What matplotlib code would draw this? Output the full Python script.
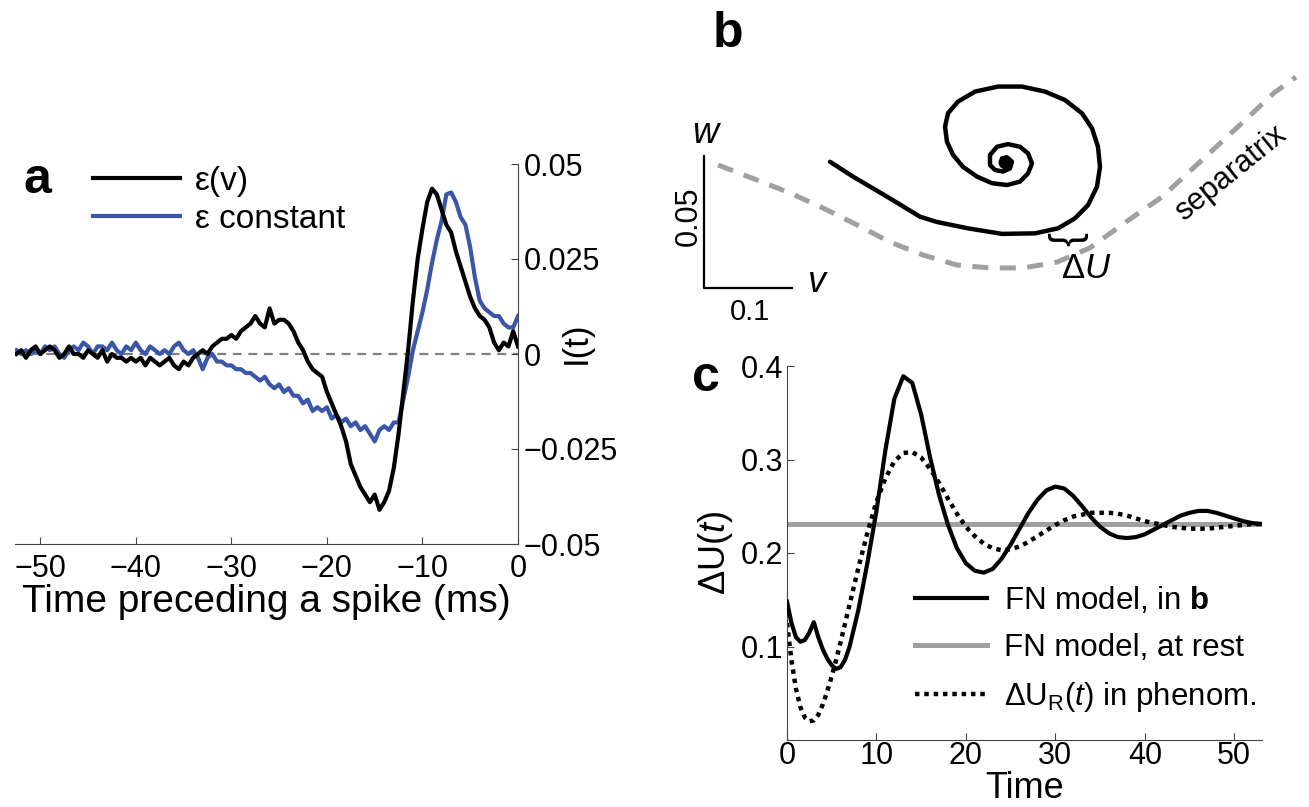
import matplotlib
matplotlib.use("Agg")
import matplotlib.pyplot as plt
import numpy as np

plt.rcParams['font.family'] = ['Liberation Sans', 'DejaVu Sans']
plt.rcParams['mathtext.fontset'] = 'custom'
plt.rcParams['mathtext.rm'] = 'Liberation Sans'
plt.rcParams['mathtext.it'] = 'Liberation Sans:italic'
plt.rcParams['mathtext.bf'] = 'Liberation Sans:bold'

# ---- panel a: spike-triggered average, 0.5 ms sampling ----
a_time = np.arange(-52.5, 0.01, 0.5)
a_eps_v = [
    0.000, 0.001, -0.001, 0.001, 0.002, 0.000, 0.001, 0.002, 0.001, -0.001,
    0.000, 0.002, 0.000, 0.000, -0.001, 0.001, 0.000, -0.001, 0.001, -0.002,
    0.000, -0.001, -0.001, -0.002, -0.001, -0.002, -0.001, -0.003, -0.001, -0.002,
    -0.003, -0.002, -0.001, -0.003, -0.004, -0.002, -0.003, -0.001, 0.000, 0.001,
    0.000, 0.002, 0.003, 0.004, 0.004, 0.005, 0.004, 0.006, 0.007, 0.008,
    0.010, 0.008, 0.007, 0.012, 0.008, 0.009, 0.009, 0.008, 0.006, 0.003,
    0.001, -0.002, -0.004, -0.005, -0.006, -0.010, -0.013, -0.016, -0.019, -0.023,
    -0.029, -0.032, -0.035, -0.037, -0.039, -0.037, -0.041, -0.039, -0.036, -0.030,
    -0.021, -0.010, 0.001, 0.014, 0.025, 0.033, 0.040, 0.0435, 0.042, 0.038,
    0.034, 0.032, 0.027, 0.023, 0.019, 0.015, 0.012, 0.010, 0.009, 0.007,
    0.003, 0.001, 0.003, 0.002, 0.006, 0.002,
]
a_eps_const = [
    0.001, 0.000, 0.001, 0.000, 0.001, 0.000, 0.002, 0.001, 0.002, 0.000,
    -0.001, 0.001, 0.002, 0.001, 0.003, 0.002, 0.000, 0.002, 0.002, 0.001,
    0.003, 0.001, 0.000, 0.002, 0.001, 0.003, 0.001, 0.000, 0.002, 0.001,
    0.000, 0.001, 0.000, 0.002, 0.003, 0.001, 0.000, 0.001, -0.001, -0.004,
    -0.001, 0.000, -0.002, -0.002, -0.003, -0.003, -0.004, -0.004, -0.005, -0.005,
    -0.006, -0.007, -0.006, -0.008, -0.009, -0.008, -0.010, -0.009, -0.011, -0.011,
    -0.013, -0.012, -0.015, -0.014, -0.015, -0.014, -0.017, -0.016, -0.018, -0.017,
    -0.019, -0.018, -0.020, -0.019, -0.021, -0.023, -0.020, -0.019, -0.020, -0.018,
    -0.018, -0.012, -0.006, 0.001, 0.006, 0.011, 0.017, 0.024, 0.030, 0.035,
    0.042, 0.0425, 0.040, 0.036, 0.034, 0.028, 0.020, 0.014, 0.012, 0.011,
    0.010, 0.010, 0.008, 0.007, 0.007, 0.010,
]
a_xticks = [-50, -40, -30, -20, -10, 0]
a_xticklabels = ["\u221250", "\u221240", "\u221230", "\u221220", "\u221210", "0"]
a_yticks = [-0.05, -0.025, 0, 0.025, 0.05]
a_yticklabels = ["\u22120.05", "\u22120.025", "0", "0.025", "0.05"]

# ---- panel b: phase plane sketch (v, w relative to scale-bar corner) ----
sep_v = [0.0159, 0.0602, 0.0977, 0.1352, 0.1739, 0.2114, 0.2489, 0.2875, 0.3250,
         0.3625, 0.4011, 0.4386, 0.4557, 0.4841, 0.5205, 0.5659, 0.6114, 0.6477, 0.6727]
sep_w = [0.0466, 0.0409, 0.0360, 0.0303, 0.0239, 0.0174, 0.0125, 0.0087, 0.0076,
         0.0076, 0.0098, 0.0152, 0.0193, 0.0261, 0.0345, 0.0485, 0.0625, 0.0739, 0.0799]
traj_v = [0.1432, 0.1693, 0.2080, 0.2455, 0.2648, 0.3000, 0.3386, 0.3761, 0.4023,
          0.4216, 0.4364, 0.4466, 0.4500, 0.4477, 0.4409, 0.4295, 0.4102, 0.3875,
          0.3614, 0.3341, 0.3080, 0.2886, 0.2773, 0.2739, 0.2761, 0.2830, 0.2943,
          0.3102, 0.3273, 0.3443, 0.3591, 0.3682, 0.3727, 0.3682, 0.3591, 0.3455,
          0.3330, 0.3250, 0.3250, 0.3307, 0.3398, 0.3477, 0.3500, 0.3443, 0.3386]
traj_w = [0.0478, 0.0422, 0.0346, 0.0270, 0.0250, 0.0226, 0.0205, 0.0207, 0.0226,
          0.0264, 0.0314, 0.0384, 0.0459, 0.0535, 0.0605, 0.0662, 0.0712, 0.0744,
          0.0763, 0.0763, 0.0744, 0.0706, 0.0662, 0.0611, 0.0554, 0.0504, 0.0459,
          0.0422, 0.0397, 0.0390, 0.0403, 0.0434, 0.0472, 0.0510, 0.0535, 0.0545,
          0.0535, 0.0504, 0.0466, 0.0447, 0.0441, 0.0453, 0.0478, 0.0495, 0.0491]
fixed_point = (0.3420, 0.0478)
bar_v = 0.1
bar_w = 0.05

# ---- panel c: Delta U(t) ----
c_time = [0, 0.5, 1, 1.5, 2, 2.5, 3, 3.5, 4, 4.5, 5, 5.5, 6, 6.5, 7, 8, 9, 10, 11, 12,
          13, 14, 15, 16, 17, 18, 19, 20, 21, 22, 23, 24, 25, 26, 27, 28, 29, 30, 31,
          32, 33, 34, 35, 36, 37, 38, 39, 40, 41, 42, 43, 44, 45, 46, 47, 48, 49, 50,
          51, 52, 53]
c_fn = [0.148, 0.125, 0.110, 0.105, 0.107, 0.115, 0.126, 0.110, 0.097, 0.087, 0.080,
        0.076, 0.078, 0.086, 0.100, 0.140, 0.190, 0.245, 0.310, 0.365, 0.389, 0.382,
        0.348, 0.302, 0.262, 0.230, 0.205, 0.189, 0.181, 0.179, 0.183, 0.194, 0.209,
        0.226, 0.243, 0.257, 0.267, 0.271, 0.269, 0.261, 0.250, 0.238, 0.228, 0.221,
        0.217, 0.216, 0.217, 0.220, 0.225, 0.230, 0.235, 0.240, 0.243, 0.245, 0.245,
        0.243, 0.240, 0.237, 0.234, 0.232, 0.231]
c_phenom = [0.125, 0.085, 0.055, 0.035, 0.024, 0.020, 0.021, 0.027, 0.038, 0.052, 0.068,
            0.086, 0.105, 0.125, 0.145, 0.185, 0.222, 0.255, 0.280, 0.298, 0.307, 0.308,
            0.302, 0.290, 0.275, 0.258, 0.242, 0.228, 0.218, 0.210, 0.205, 0.203, 0.204,
            0.207, 0.212, 0.218, 0.224, 0.230, 0.235, 0.239, 0.241, 0.243, 0.243, 0.243,
            0.242, 0.240, 0.237, 0.234, 0.232, 0.230, 0.228, 0.227, 0.226, 0.226, 0.226,
            0.227, 0.228, 0.229, 0.230, 0.231, 0.231]
c_rest = 0.231
c_xticks = [0, 10, 20, 30, 40, 50]
c_yticks = [0.1, 0.2, 0.3, 0.4]

BLUE = "#3b56a8"
GRAY = "#a0a0a0"
SPINE = "#444444"
W, H = 1309, 807

fig = plt.figure(figsize=(W / 100, H / 100), dpi=100)


def px_box(x0, y0, x1, y1):
    return [x0 / W, 1 - y1 / H, (x1 - x0) / W, (y1 - y0) / H]


# ================= panel a =================
ax_a = fig.add_axes(px_box(14.5, 164, 518, 544))
ax_a.axhline(0, color="#808080", lw=1.6, ls=(0, (4, 3)), zorder=1)
ax_a.plot(a_time, a_eps_const, color=BLUE, lw=3.0, label="\u03b5 constant", zorder=2)
ax_a.plot(a_time, a_eps_v, color="black", lw=3.0, label="\u03b5(v)", zorder=3)
ax_a.set_xlim(-52.7, 0)
ax_a.set_ylim(-0.05, 0.05)
for s in ["left", "top"]:
    ax_a.spines[s].set_visible(False)
for s in ["right", "bottom"]:
    ax_a.spines[s].set_color(SPINE)
ax_a.yaxis.tick_right()
ax_a.yaxis.set_label_position("right")
ax_a.set_xticks(a_xticks)
ax_a.set_xticklabels(a_xticklabels)
ax_a.set_yticks(a_yticks)
ax_a.set_yticklabels(a_yticklabels)
ax_a.tick_params(direction="in", length=5, labelsize=22, color=SPINE, pad=4)
ax_a.tick_params(axis="x", pad=7)
ax_a.set_xlabel("Time preceding a spike (ms)", fontsize=28, labelpad=0)
ax_a.set_ylabel("I(t)", fontsize=25, rotation=90)
ax_a.yaxis.set_label_coords(1.083, 0.53)
handles, labels = ax_a.get_legend_handles_labels()
ax_a.legend(handles[::-1], labels[::-1], loc="upper left", bbox_to_anchor=(0.156, 0.995),
            frameon=False, fontsize=24, handlelength=2.6, handletextpad=0.45,
            borderpad=0, borderaxespad=0, labelspacing=0.2)

# ================= panel b =================
ax_b = fig.add_axes(px_box(680, 0, 1309, 330))
ax_b.set_xlim(-24 / 880, 605 / 880)
ax_b.set_ylim(-42 / 2640, 288 / 2640)
ax_b.axis("off")
ax_b.plot(sep_v, sep_w, color=GRAY, lw=3.6, dashes=(3.2, 2.3), solid_capstyle="butt")
ax_b.plot(traj_v, traj_w, color="black", lw=3.2, solid_capstyle="round",
          solid_joinstyle="round")
ax_b.plot([fixed_point[0]], [fixed_point[1]], "o", color="black", ms=9)
ax_b.plot([0, 0, bar_v], [bar_w, 0, 0], color="black", lw=1.6)
ax_b.text(0.002, bar_w + 0.0085, "w", fontsize=26, style="italic", ha="center", va="center")
ax_b.text(-0.017, bar_w / 2 + 0.002, "0.05", fontsize=22, rotation=90, ha="center", va="center")
ax_b.text(bar_v / 2 + 0.002, -0.009, "0.1", fontsize=21, ha="center", va="center")
ax_b.text(bar_v + 0.027, 0.002, "v", fontsize=26, style="italic", ha="center", va="center")
ax_b.text(0.434, 0.0075, r"$\Delta\mathit{U}$", fontsize=25, ha="center", va="center")
ax_b.text(0.4136, 0.0185, "{", fontsize=30, rotation=90, ha="center", va="center",
          fontweight="light")
ax_b.text(0.598, 0.0436, "separatrix", fontsize=22, rotation=39, ha="center", va="center")

# ================= panel c =================
ax_c = fig.add_axes(px_box(787, 366, 1262, 740))
ax_c.plot([0, 53.1], [c_rest, c_rest], color=GRAY, lw=3.6, label="FN model, at rest", zorder=1)
ax_c.plot(c_time, c_fn, color="black", lw=3.0, label=r"FN model, in $\mathbf{b}$", zorder=3)
ax_c.plot(c_time, c_phenom, color="black", lw=3.2, ls=(0, (1, 1.1)),
          label=r"$\Delta$U$_\mathrm{R}$($\mathit{t}$) in phenom.", zorder=2)
ax_c.set_xlim(0, 53.1)
ax_c.set_ylim(0, 0.4)
for s in ["right", "top"]:
    ax_c.spines[s].set_visible(False)
for s in ["left", "bottom"]:
    ax_c.spines[s].set_color(SPINE)
ax_c.set_xticks(c_xticks)
ax_c.set_yticks(c_yticks)
ax_c.set_yticklabels(["0.1", "0.2", "0.3", "0.4"])
ax_c.tick_params(direction="in", length=5, labelsize=22, color=SPINE, pad=3)
ax_c.tick_params(axis="x", pad=1)
ax_c.set_xlabel("Time", fontsize=26, labelpad=0)
ax_c.set_ylabel(r"$\Delta$U($\mathit{t}$)", fontsize=26, labelpad=4)
h, l = ax_c.get_legend_handles_labels()
ax_c.legend([h[1], h[0], h[2]], [l[1], l[0], l[2]], loc="upper left",
            bbox_to_anchor=(0.27, 0.415), frameon=False, fontsize=22.5,
            handlelength=2.3, handletextpad=0.55, borderpad=0, borderaxespad=0,
            labelspacing=0.55)

# panel letters
fig.text(37 / W, 1 - 180 / H, "a", fontsize=36, fontweight="bold", ha="center", va="center")
fig.text(728 / W, 1 - 34 / H, "b", fontsize=36, fontweight="bold", ha="center", va="center")
fig.text(706 / W, 1 - 378 / H, "c", fontsize=36, fontweight="bold", ha="center", va="center")

fig.savefig("out.png", dpi=100)
